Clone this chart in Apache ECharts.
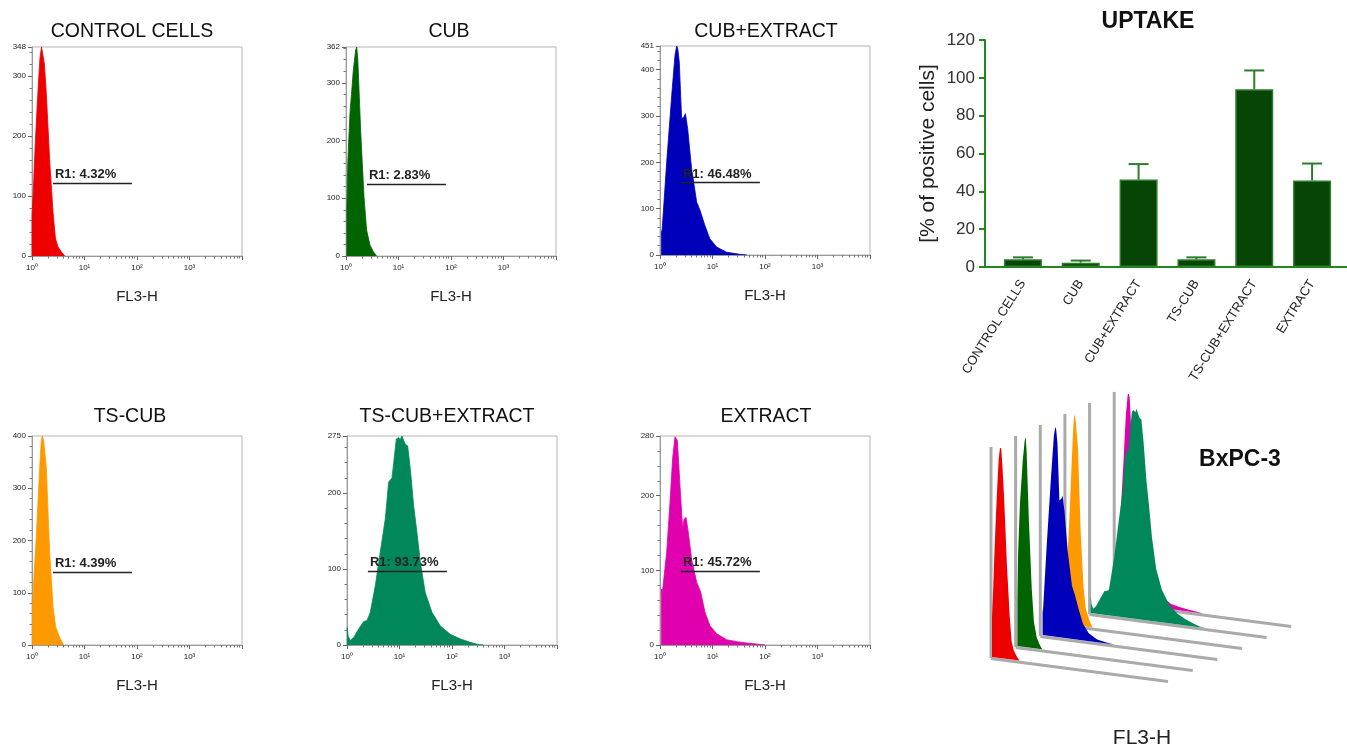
<!DOCTYPE html>
<html><head><meta charset="utf-8">
<script src="https://cdn.jsdelivr.net/npm/echarts@6/dist/echarts.min.js"></script>
<style>html,body{margin:0;padding:0;background:#fff}#c{width:1347px;height:747px}</style>
</head><body><div id="c"></div>
<script>
// ---------------- DATA ----------------
const sampleNames = ['CONTROL CELLS', 'CUB', 'CUB+EXTRACT', 'TS-CUB', 'TS-CUB+EXTRACT', 'EXTRACT'];
// histograms: [FL3-H value, count]
const histControl = [[1,0],[1,66],[1.06,110],[1.13,170],[1.22,230],[1.32,285],[1.42,330],[1.52,348],[1.62,348],[1.72,320],[1.88,268],[2.18,156],[2.52,72],[2.79,30],[3.1,16],[3.6,7],[4.2,0]];
const histCub = [[1.04,0],[1.04,80],[1.08,161],[1.19,247],[1.38,322],[1.53,357],[1.6,362],[1.68,340],[1.9,218],[2.2,103],[2.47,45],[2.86,19],[3.3,8],[3.8,0]];
const histCubExtract = [[1.07,0],[1.07,49],[1.1,56],[1.34,200],[1.67,344],[1.93,431],[2.08,451],[2.18,445],[2.33,416],[2.58,294],[2.86,298],[3.05,305],[3.37,272],[4.0,186],[5.0,114],[5.8,96],[7.2,63],[8.9,35],[12,17],[18.6,6],[33,1.5],[45,0]];
const histTsCub = [[1.02,0],[1.02,70],[1.1,140],[1.21,209],[1.4,339],[1.5,390],[1.57,401],[1.67,390],[1.87,340],[2.17,177],[2.52,73],[2.83,34],[3.38,14],[4.0,0]];
const histTsCubExtract = [[1.01,0],[1.01,23],[1.05,12],[1.15,6],[1.34,10],[1.67,21],[2.08,31],[2.4,32],[2.6,33],[2.78,43],[3.46,78],[4.3,122],[5.37,166],[6.2,214],[7.2,220],[7.76,240],[8.7,271],[9.6,273],[10.3,270],[11.1,275],[12.2,268],[12.9,264],[14.3,262],[16.1,231],[18.6,183],[21.5,148],[24.9,109],[30.9,69],[41.5,43],[60,25],[93,14],[144,8],[223,3.5],[300,1],[400,0]];
const histExtract = [[1.07,0],[1.07,75],[1.1,68],[1.34,124],[1.55,191],[1.74,250],[1.93,279],[2.05,280],[2.14,274],[2.4,214],[2.7,156],[2.86,168],[3.13,171],[3.46,151],[4.0,115],[5.0,84],[5.95,71],[7.2,44],[8.9,26],[12,15],[18.6,7],[29,4.5],[45,2.7],[69,1.3],[100,0]];
const histograms = [histControl, histCub, histCubExtract, histTsCub, histTsCubExtract, histExtract];
const yMaxes = [348, 362, 451, 400, 275, 280];
const gateLabels = ['R1: 4.32%', 'R1: 2.83%', 'R1: 46.48%', 'R1: 4.39%', 'R1: 93.73%', 'R1: 45.72%'];
const gateRange = [2.5, 80];
const gateHeights = [121, 125, 156, 140, 97, 99];
const xTickLabels = ['10⁰', '10¹', '10²', '10³'];
const uptakeMeans = [4.1, 2.3, 46.2, 4.1, 93.9, 45.7];
const uptakeErrors = [1.0, 1.1, 8.2, 1.0, 10.0, 9.0];
const colors = ['#ee0000', '#006400', '#0000bb', '#ff9900', '#00875a', '#e000ad'];

// ---------------- LAYOUT ----------------
const FONT = 'Liberation Sans, Arial, Helvetica, sans-serif';
const panelLefts = [32, 346, 660, 32, 347, 660];
const panelTops = [47, 47, 46, 436, 436, 436];
const titleX = [132, 449, 766, 130, 447, 766];
const titleY = [32, 32, 32, 417, 417, 417];
const PW = 210, PH = 209;
// pseudo-3D overlay projection (units: decades horizontally, normalized height vertically)
const L3 = { x0: 0.682, y0: -0.295, dx: 0.56, dy: 0.0524, slant: 0.0274, decades: 4 };
const AXIS_GREEN = '#1e8a1e';

const grids = [], xAxes = [], yAxes = [], series = [];
histograms.forEach((hist, i) => {
  grids.push({ left: panelLefts[i], top: panelTops[i], width: PW, height: PH, show: true, borderColor: '#b4b4b4', borderWidth: 1 });
  xAxes.push({
    type: 'log', logBase: 10, gridIndex: i, min: 1, max: 10000,
    axisLine: { show: true, lineStyle: { color: '#9a9a9a', width: 1 } },
    axisTick: { show: true, length: 4, lineStyle: { color: '#666' } },
    minorTick: { show: true, splitNumber: 9, length: 2.5, lineStyle: { color: '#777' } },
    splitLine: { show: false }, minorSplitLine: { show: false },
    axisLabel: { fontSize: 8, color: '#222', margin: 8, fontFamily: FONT,
      formatter: v => { const e = Math.round(Math.log10(v)); return e < xTickLabels.length ? xTickLabels[e] : ''; } },
    name: 'FL3-H', nameLocation: 'middle', nameGap: 33,
    nameTextStyle: { fontSize: 15, color: '#222', fontFamily: FONT }
  });
  yAxes.push({
    type: 'value', gridIndex: i, min: 0, max: yMaxes[i], interval: 100,
    axisLine: { show: true, lineStyle: { color: '#9a9a9a', width: 1 } },
    axisTick: { show: true, length: 4, lineStyle: { color: '#666' } },
    minorTick: { show: true, splitNumber: 5, length: 2.5, lineStyle: { color: '#777' } },
    splitLine: { show: false },
    axisLabel: { fontSize: 8, color: '#222', margin: 6, fontFamily: FONT, showMaxLabel: true, hideOverlap: false }
  });
  series.push({
    type: 'line', xAxisIndex: i, yAxisIndex: i, data: hist, symbol: 'none', smooth: false,
    lineStyle: { color: colors[i], width: 0.8 }, areaStyle: { color: colors[i], opacity: 1 },
    animation: false, silent: true,
    markLine: {
      silent: true, symbol: ['none', 'none'], animation: false,
      lineStyle: { color: '#222', width: 1.4, type: 'solid' },
      label: { show: true, position: 'insideStartTop', formatter: gateLabels[i], fontSize: 13, fontWeight: 'bold', color: '#222', fontFamily: FONT, distance: [2, 2] },
      data: [[{ coord: [gateRange[0], gateHeights[i]] }, { coord: [gateRange[1], gateHeights[i]] }]]
    }
  });
});

// ---- bar chart (grid 6) ----
grids.push({ left: 994, right: 6, top: 40, height: 227 });
xAxes.push({
  type: 'category', gridIndex: 6, data: sampleNames,
  axisLine: { lineStyle: { color: AXIS_GREEN, width: 2 } },
  axisTick: { alignWithLabel: true, length: 6, lineStyle: { color: AXIS_GREEN, width: 2 } },
  axisLabel: { interval: 0, rotate: 58, fontSize: 13, color: '#222', margin: 14, fontFamily: FONT }
});
yAxes.push({
  type: 'value', gridIndex: 6, min: 0, max: 120, interval: 20, offset: 9,
  axisLine: { show: true, lineStyle: { color: AXIS_GREEN, width: 2 } },
  axisTick: { show: true, length: 6, lineStyle: { color: AXIS_GREEN, width: 2 } },
  splitLine: { show: false },
  axisLabel: { fontSize: 17, color: '#333', margin: 10, fontFamily: FONT },
  name: '[% of positive cells]', nameLocation: 'middle', nameGap: 46, nameRotate: 90,
  nameTextStyle: { fontSize: 21, color: '#222', fontFamily: FONT }
});
series.push({
  type: 'bar', xAxisIndex: 6, yAxisIndex: 6, data: uptakeMeans, barWidth: 38,
  itemStyle: { color: '#064506', borderColor: '#2c7c2c', borderWidth: 1.5 }, animation: false, silent: true
});
series.push({
  type: 'custom', xAxisIndex: 6, yAxisIndex: 6, animation: false, silent: true, z: 3,
  data: uptakeMeans.map((m, i) => [i, m, uptakeErrors[i]]),
  renderItem: (params, api) => {
    const i = api.value(0), m = api.value(1), e = api.value(2);
    const b = api.coord([i, m]), t = api.coord([i, m + e]);
    const st = { stroke: '#2c7c2c', lineWidth: 2 };
    return { type: 'group', children: [
      { type: 'line', shape: { x1: b[0], y1: b[1], x2: t[0], y2: t[1] }, style: st },
      { type: 'line', shape: { x1: t[0] - 10, y1: t[1], x2: t[0] + 10, y2: t[1] }, style: st }
    ] };
  }
});

// ---- pseudo-3D overlay (grid 7) ----
grids.push({ left: 962, top: 385, width: 385, height: 315 });
xAxes.push({ type: 'value', gridIndex: 7, min: 0, max: 8.75, show: false, splitLine: { show: false } });
yAxes.push({ type: 'value', gridIndex: 7, min: -0.5, max: 1.0, show: false, splitLine: { show: false } });
function layerRenderer(k) {
  const hist = histograms[k], ymax = yMaxes[k], color = colors[k];
  return function (params, api) {
    const X = L3.x0 + k * L3.dx, Y = L3.y0 + k * L3.dy;
    const P = (u, h) => api.coord([X + u, Y - L3.slant * u + h]);
    const pts = hist.map(d => P(Math.log10(d[0]), d[1] / ymax));
    pts.unshift(P(Math.log10(hist[0][0]), 0));
    pts.push(P(Math.log10(hist[hist.length - 1][0]), 0));
    const o = P(0, 0), top = P(0, 1), end = P(L3.decades, 0);
    const gray = { stroke: '#aaaaaa', lineWidth: 3 };
    return { type: 'group', children: [
      { type: 'line', shape: { x1: o[0] - 1, y1: o[1] + 1, x2: top[0] - 1, y2: top[1] }, style: gray },
      { type: 'line', shape: { x1: o[0] - 1, y1: o[1] + 1.5, x2: end[0], y2: end[1] + 1.5 }, style: gray },
      { type: 'polygon', shape: { points: pts }, style: { fill: color } }
    ] };
  };
}
for (let k = 5; k >= 0; k--) {
  series.push({
    type: 'custom', xAxisIndex: 7, yAxisIndex: 7, z: 2 + (5 - k), clip: false,
    animation: false, silent: true, data: [[0, 0]], renderItem: layerRenderer(k)
  });
}

// ---- bar-chart baseline running from the y axis to the right edge (grid 8, line only) ----
grids.push({ left: 985, right: 0, top: 40, height: 227 });
xAxes.push({ type: 'value', gridIndex: 8, min: 0, max: 1, axisLine: { show: true, lineStyle: { color: AXIS_GREEN, width: 2 } },
  axisTick: { show: false }, axisLabel: { show: false }, splitLine: { show: false } });
yAxes.push({ type: 'value', gridIndex: 8, min: 0, max: 1, show: false, splitLine: { show: false } });

// ---- texts ----
const graphic = [];
sampleNames.forEach((n, i) => graphic.push({ type: 'text', x: titleX[i], y: titleY[i],
  style: { text: n, fontSize: 19.5, fill: '#111', fontFamily: FONT, textAlign: 'center', textVerticalAlign: 'middle' } }));
graphic.push({ type: 'text', x: 1148, y: 22, style: { text: 'UPTAKE', fontSize: 23, fontWeight: 'bold', fill: '#111', fontFamily: FONT, textAlign: 'center', textVerticalAlign: 'middle' } });
graphic.push({ type: 'text', x: 1240, y: 460, style: { text: 'BxPC-3', fontSize: 23, fontWeight: 'bold', fill: '#111', fontFamily: FONT, textAlign: 'center', textVerticalAlign: 'middle' } });
graphic.push({ type: 'text', x: 1142, y: 738, style: { text: 'FL3-H', fontSize: 21, fill: '#222', fontFamily: FONT, textAlign: 'center', textVerticalAlign: 'middle' } });

const chart = echarts.init(document.getElementById('c'), null, { renderer: 'canvas' });
chart.setOption({
  backgroundColor: '#ffffff', animation: false,
  textStyle: { fontFamily: FONT },
  grid: grids, xAxis: xAxes, yAxis: yAxes, series: series, graphic: graphic
});
</script></body></html>
